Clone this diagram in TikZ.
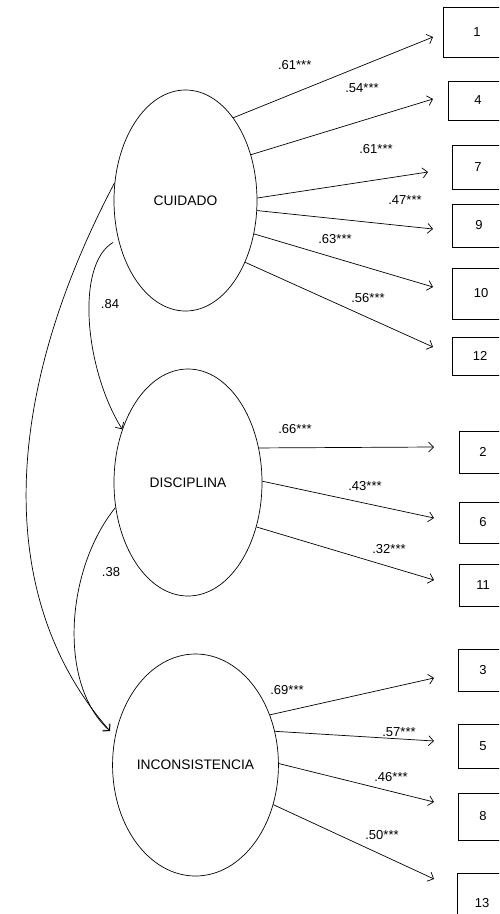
\documentclass[tikz,border=0pt]{standalone}
\usepackage{fontspec}
\setmainfont{Liberation Sans}
\usetikzlibrary{shapes.geometric, arrows.meta}

\begin{document}
\begin{tikzpicture}[x=1pt, y=-1pt, >={Straight Barb[length=5pt,width=10pt]}, line width=0.7pt, font=\fontsize{13}{15}\selectfont]
\useasboundingbox (0,0) rectangle (499,914);
\clip (0,0) rectangle (499,914);

\tikzstyle{every node}=[ellipse, draw, inner sep=0pt, font=\fontsize{13.8}{16}\selectfont]
\draw    (185.5, 200.5) node[minimum width=143pt, minimum height=221pt] (cuid) {CUIDADO}
         (188,   482.5) node[minimum width=148pt, minimum height=227pt] (disc) {DISCIPLINA}
         (195.5, 765)   node[minimum width=163pt, minimum height=222pt] (inco) {INCONSISTENCIA};

\tikzstyle{every node}=[rectangle, draw, inner sep=0pt]
\draw    (477, 32)    node[minimum width=68pt, minimum height=50pt] (it1) {1}
         (478, 100.5) node[minimum width=60pt, minimum height=39pt] (it4) {4}
         (478, 167)   node[minimum width=52pt, minimum height=44pt] (it7) {7}
         (479, 225.5) node[minimum width=54pt, minimum height=43pt] (it9) {9}
         (481, 293.5) node[minimum width=58pt, minimum height=51pt] (it10) {10}
         (480, 356)   node[minimum width=56pt, minimum height=38pt] (it12) {12};
\draw    (483, 452)   node[minimum width=48pt, minimum height=42pt] (it2) {2}
         (483, 522.5) node[minimum width=48pt, minimum height=41pt] (it6) {6}
         (483, 585)   node[minimum width=48pt, minimum height=42pt] (it11) {11};
\draw    (483, 670)   node[minimum width=50pt, minimum height=42pt] (it3) {3}
         (483, 746)   node[minimum width=50pt, minimum height=44pt] (it5) {5}
         (483, 816.5) node[minimum width=50pt, minimum height=47pt] (it8) {8}
         (482, 903)   node[minimum width=50pt, minimum height=60pt] (it13) {13};

% arrow tips in front of the items
\coordinate (a1) at (433, 37);
\coordinate (a4) at (433, 99);
\coordinate (a7) at (428, 172);
\coordinate (a9) at (433, 229);
\coordinate (a10) at (433, 287);
\coordinate (a12) at (433, 347);
\coordinate (a2) at (434, 447);
\coordinate (a6) at (434, 518);
\coordinate (a11) at (434, 580);
\coordinate (a3) at (434, 678);
\coordinate (a5) at (434, 741);
\coordinate (a8) at (434, 802);
\coordinate (a13) at (434, 879);
\coordinate (ainc) at (110, 731);

\draw [->] (cuid.60) -- (a1);
\draw [->] (cuid.35) -- (a4);
\draw [->] (cuid.2.8) -- (a7);
\draw [->] (cuid.-8.4) -- (a9);
\draw [->] (cuid.-26.9) -- (a10);
\draw [->] (cuid.-46.6) -- (a12);

\draw [->] (disc.26.8) -- (a2);
\draw [->] (disc.1.2) -- (a6);
\draw [->] (disc.-33.2) -- (a11);

\draw [->] (inco.34.5) -- (a3);
\draw [->] (inco.23) -- (a5);
\draw [->] (inco.1.4) -- (a8);
\draw [->] (inco.-27.8) -- (a13);

% correlations
\draw [->] (cuid.166) .. controls (0,400) and (-5,600) .. (ainc);
\draw [->, shorten <=6pt] (cuid.210) .. controls (75,265) and (85,370) .. (disc.141.3);
\draw [->] (disc.199.5) .. controls (65,570) and (58,685) .. (ainc);

\tikzstyle{every node}=[inner sep=0pt]
\node (w1) at (294.7, 65) {.61***};
\node (w4) at (362, 88) {.54***};
\node (w7) at (376, 149) {.61***};
\node (w9) at (405, 200) {.47***};
\node (w10) at (335, 239) {.63***};
\node (w12) at (368, 298) {.56***};
\node (w2) at (295, 429) {.66***};
\node (w6) at (365, 486) {.43***};
\node (w11) at (389, 549) {.32***};
\node (w3) at (287, 690) {.69***};
\node (w5) at (399, 732) {.57***};
\node (w8) at (391, 777) {.46***};
\node (w13) at (382, 835) {.50***};
\node (r84) at (110, 304) {.84};
\node (r38) at (111, 572) {.38};

\end{tikzpicture}
\end{document}
